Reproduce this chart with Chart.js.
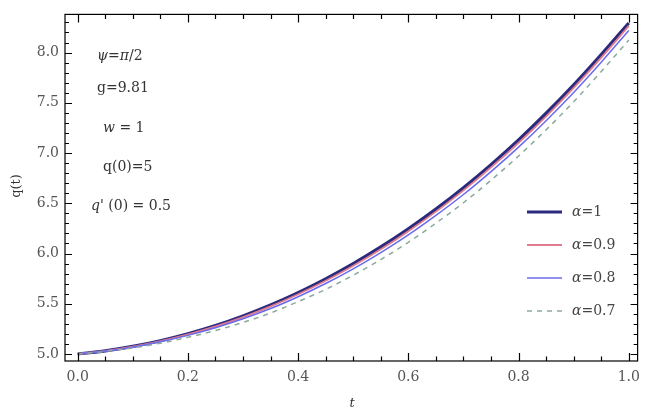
<!DOCTYPE html>
<html>
<head>
<meta charset="utf-8">
<script src="https://cdn.jsdelivr.net/npm/chart.js@4.4.0/dist/chart.umd.min.js"></script>
<style>
  html, body { margin: 0; padding: 0; background: #fff; }
  #wrap { width: 648px; height: 413px; }
</style>
</head>
<body>
<div id="wrap"><canvas id="chart" width="648" height="413"></canvas></div>
<script>
// values
var tValues = [0, 0.05, 0.1, 0.15, 0.2, 0.25, 0.3, 0.35, 0.4, 0.45, 0.5, 0.55, 0.6, 0.65, 0.7, 0.75, 0.8, 0.85, 0.9, 0.95, 1.0];
var qAlpha1  = [5.000, 5.031, 5.075, 5.132, 5.201, 5.283, 5.379, 5.488, 5.611, 5.748, 5.899, 6.065, 6.246, 6.442, 6.655, 6.885, 7.131, 7.396, 7.679, 7.981, 8.295];
var qAlpha09 = [5.000, 5.030, 5.072, 5.127, 5.195, 5.274, 5.367, 5.474, 5.595, 5.729, 5.878, 6.042, 6.222, 6.417, 6.628, 6.857, 7.102, 7.366, 7.649, 7.950, 8.265];
var qAlpha08 = [5.000, 5.029, 5.068, 5.121, 5.185, 5.261, 5.350, 5.452, 5.570, 5.701, 5.847, 6.009, 6.185, 6.379, 6.587, 6.815, 7.059, 7.322, 7.603, 7.904, 8.220];
var qAlpha07 = [5.000, 5.026, 5.060, 5.107, 5.166, 5.233, 5.314, 5.408, 5.521, 5.643, 5.784, 5.940, 6.111, 6.302, 6.505, 6.730, 6.971, 7.231, 7.511, 7.811, 8.125];

var seriesNames = ["=1", "=0.9", "=0.8", "=0.7"];
var xTickValues = [0, 0.2, 0.4, 0.6, 0.8, 1.0];
var xTickLabels = ["0.0", "0.2", "0.4", "0.6", "0.8", "1.0"];
var yTickValues = [5.0, 5.5, 6.0, 6.5, 7.0, 7.5, 8.0];
var yTickLabels = ["5.0", "5.5", "6.0", "6.5", "7.0", "7.5", "8.0"];

// parameter notes, as [text, italic] pieces
var paramLines = [
  [["\u03c8", true], ["=", false], ["\u03c0", true], ["/2", false]],
  [["g=9.81", false]],
  [["w", true], [" = 1", false]],
  [["q(0)=5", false]],
  [["q'", true], [" (0) = 0.5", false]]
];

function toPoints(ys) {
  return tValues.map(function (t, i) { return { x: t, y: ys[i] }; });
}

var SERIF = "'DejaVu Serif', 'Liberation Serif', serif";

function drawRich(ctx, pieces, x, y, size, color) {
  ctx.fillStyle = color;
  ctx.textBaseline = "middle";
  ctx.textAlign = "left";
  var cx = x;
  pieces.forEach(function (p) {
    ctx.font = (p[1] ? "italic " : "") + size + "px " + SERIF;
    ctx.fillText(p[0], cx, y);
    cx += ctx.measureText(p[0]).width;
  });
}

var framePlugin = {
  id: "frame",
  afterDraw: function (chart) {
    var ctx = chart.ctx;
    var a = chart.chartArea;
    var xs = chart.scales.x, ys = chart.scales.y;
    ctx.save();
    ctx.strokeStyle = "#000";
    ctx.lineWidth = 1.2;
    ctx.strokeRect(a.left, a.top, a.right - a.left, a.bottom - a.top);

    ctx.lineWidth = 1.2;
    ctx.beginPath();
    // x ticks, bottom and top, pointing inward
    for (var i = 0; i <= 20; i++) {
      var v = i * 0.05;
      var px = Math.round(xs.getPixelForValue(v)) + 0.5;
      var len = (i % 4 === 0) ? 8 : 4.5;
      ctx.moveTo(px, a.bottom); ctx.lineTo(px, a.bottom - len);
      ctx.moveTo(px, a.top); ctx.lineTo(px, a.top + len);
    }
    // y ticks, left and right
    for (var j = 49; j <= 84; j++) {
      var yv = j / 10;
      if (yv < ys.min || yv > ys.max) continue;
      var py = Math.round(ys.getPixelForValue(yv)) + 0.5;
      var ylen = (j % 5 === 0) ? 7 : 4;
      ctx.moveTo(a.left, py); ctx.lineTo(a.left + ylen, py);
      ctx.moveTo(a.right, py); ctx.lineTo(a.right - ylen, py);
    }
    ctx.stroke();

    // parameter notes
    var noteX = [97, 97, 103, 103, 91];
    var noteY = [56, 88, 128, 167, 206];
    paramLines.forEach(function (line, k) {
      drawRich(ctx, line, noteX[k], noteY[k], 14, "#333");
    });

    // axis titles
    ctx.fillStyle = "#333";
    ctx.font = "13px " + SERIF;
    ctx.textAlign = "center";
    ctx.textBaseline = "middle";
    ctx.save();
    ctx.translate(17, 186);
    ctx.rotate(-Math.PI / 2);
    ctx.fillText("q(t)", 0, 0);
    ctx.restore();
    ctx.font = "italic 13px " + SERIF;
    ctx.fillText("t", 352, 404);

    // legend
    var rowY = [212, 245, 278, 311];
    chart.data.datasets.forEach(function (ds, k) {
      ctx.strokeStyle = ds.borderColor;
      ctx.lineWidth = ds.borderWidth;
      ctx.setLineDash(ds.borderDash || []);
      ctx.beginPath();
      ctx.moveTo(527, rowY[k]);
      ctx.lineTo(562, rowY[k]);
      ctx.stroke();
      ctx.setLineDash([]);
      drawRich(ctx, [["\u03b1", true], [ds.label, false]], 572, rowY[k], 14, "#444");
    });
    ctx.restore();
  }
};

new Chart(document.getElementById("chart"), {
  type: "line",
  data: {
    datasets: [
      { label: seriesNames[0], data: toPoints(qAlpha1), borderColor: "#2b2b7e", borderWidth: 3.2, order: 3 },
      { label: seriesNames[1], data: toPoints(qAlpha09), borderColor: "#e07a8c", borderWidth: 1.8, order: 2 },
      { label: seriesNames[2], data: toPoints(qAlpha08), borderColor: "#6a6af0", borderWidth: 1.5, order: 1 },
      { label: seriesNames[3], data: toPoints(qAlpha07), borderColor: "#8aaa9a", borderWidth: 1.5, borderDash: [5, 5], order: 0 }
    ]
  },
  options: {
    responsive: false,
    animation: false,
    events: [],
    layout: { padding: { top: 8, right: 5, left: 0, bottom: 0 } },
    elements: {
      point: { radius: 0 },
      line: { tension: 0.4, cubicInterpolationMode: "monotone", fill: false }
    },
    plugins: { legend: { display: false }, tooltip: { enabled: false } },
    scales: {
      x: {
        type: "linear",
        min: -0.023,
        max: 1.016,
        grid: { display: false, drawTicks: false },
        border: { display: false },
        afterBuildTicks: function (scale) {
          scale.ticks = xTickValues.map(function (v) { return { value: v }; });
        },
        afterFit: function (scale) { scale.height = 52; },
        ticks: {
          autoSkip: false,
          maxRotation: 0,
          padding: 8,
          color: "#555",
          font: { family: SERIF, size: 14 },
          callback: function (v) {
            var i = xTickValues.indexOf(v);
            return i >= 0 ? xTickLabels[i] : "";
          }
        }
      },
      y: {
        type: "linear",
        min: 4.93,
        max: 8.38,
        grid: { display: false, drawTicks: false },
        border: { display: false },
        afterBuildTicks: function (scale) {
          scale.ticks = yTickValues.map(function (v) { return { value: v }; });
        },
        afterFit: function (scale) { scale.width = 65; },
        ticks: {
          autoSkip: false,
          padding: 6,
          color: "#555",
          font: { family: SERIF, size: 14 },
          callback: function (v) {
            var i = yTickValues.indexOf(v);
            return i >= 0 ? yTickLabels[i] : "";
          }
        }
      }
    }
  },
  plugins: [framePlugin]
});
</script>
</body>
</html>
